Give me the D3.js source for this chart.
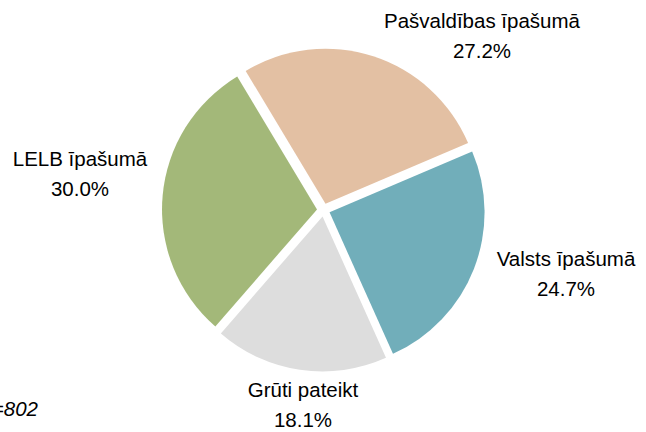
<!DOCTYPE html>
<html><head><meta charset="utf-8">
<script src="https://cdn.jsdelivr.net/npm/d3@7"></script>
<style>html,body{margin:0;padding:0;background:#fff;}svg{display:block;}</style>
</head><body>
<svg id="chart" width="646" height="432"></svg>
<script>
const categories = ["Pašvaldības īpašumā", "Valsts īpašumā", "Grūti pateikt", "LELB īpašumā"];
const values = [27.2, 24.7, 18.1, 30.0];
const colors = ["#E3C0A3", "#71AEBA", "#DDDDDD", "#A3B879"];
const note = "n=802";

// layout
const cx = 323.5, cy = 210, R = 155, explode = 6.5;
const labelAnchors = [[482, 28], [566, 266], [303, 397], [80, 166]];
const lineGap = 29.5;
const fontSize = 20.5;

const svg = d3.select("#chart");
const start = -31 * Math.PI / 180;
const pie = d3.pie().sort(null).value(d => d).startAngle(start).endAngle(start + 2 * Math.PI);
const arcs = pie(values);
const arc = d3.arc().innerRadius(0).outerRadius(R);

const g = svg.append("g").attr("transform", `translate(${cx},${cy})`);
g.selectAll("path").data(arcs).join("path")
  .attr("d", arc)
  .attr("fill", (d, i) => colors[i])
  .attr("transform", d => {
    const a = (d.startAngle + d.endAngle) / 2;
    return `translate(${explode * Math.sin(a)},${-explode * Math.cos(a)})`;
  });

const fmt = d3.format(".1f");
const lbl = svg.append("g").attr("font-family", "Liberation Sans, Arial, sans-serif")
  .attr("font-size", fontSize).attr("fill", "#000").attr("text-anchor", "middle");
arcs.forEach((d, i) => {
  const [x, y] = labelAnchors[i];
  lbl.append("text").attr("x", x).attr("y", y).text(categories[i]);
  lbl.append("text").attr("x", x).attr("y", y + lineGap).text(fmt(values[i]) + "%");
});

svg.append("text").attr("x", 38).attr("y", 416).attr("text-anchor", "end")
  .attr("font-family", "Liberation Sans, Arial, sans-serif").attr("font-size", fontSize)
  .attr("font-style", "italic").text(note);
</script>
</body></html>
